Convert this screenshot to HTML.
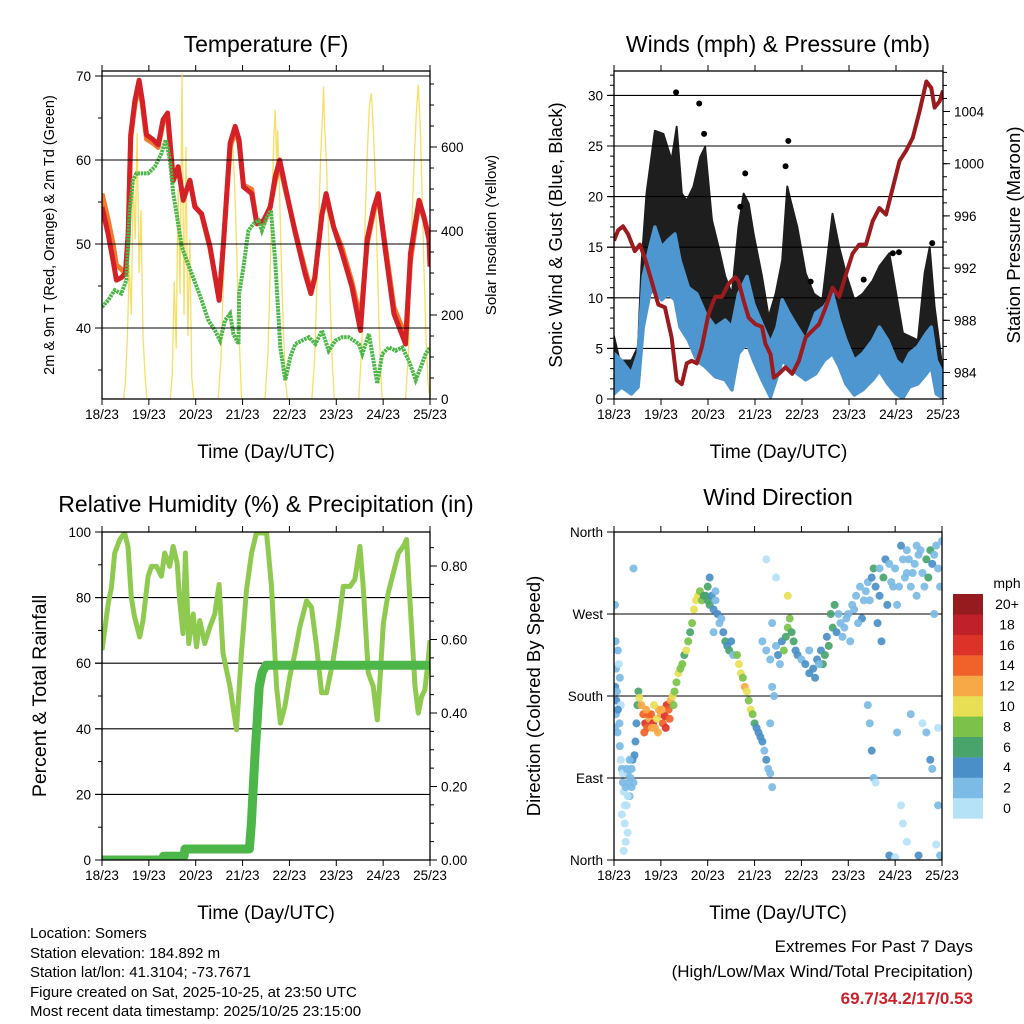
<!DOCTYPE html>
<html><head><meta charset="utf-8"><style>
html,body{margin:0;padding:0;background:#fff}
svg{display:block;font-family:"Liberation Sans",Arial,sans-serif}
</style></head><body>
<svg id="svg" width="1024" height="1024" viewBox="0 0 1024 1024" xmlns="http://www.w3.org/2000/svg">
<defs>
<clipPath id="c1"><rect x="102" y="71" width="328" height="328"/></clipPath>
<clipPath id="c2"><rect x="614" y="71" width="329" height="328"/></clipPath>
<clipPath id="c3"><rect x="102" y="532" width="328" height="328"/></clipPath>
<clipPath id="c4"><rect x="614" y="532" width="328" height="328"/></clipPath>
</defs>
<rect width="1024" height="1024" fill="#fff"/>
<g id="p1"></g>
<g id="p2"></g>
<g id="p3"></g>
<g id="p4"></g>
<g font-size="15" fill="#000">
<text x="30" y="938">Location: Somers</text>
<text x="30" y="958">Station elevation: 184.892 m</text>
<text x="30" y="977">Station lat/lon: 41.3104; -73.7671</text>
<text x="30" y="997">Figure created on Sat, 2025-10-25, at 23:50 UTC</text>
<text x="30" y="1016">Most recent data timestamp: 2025/10/25 23:15:00</text>
</g>
<g text-anchor="end" font-size="17">
<text x="973" y="952">Extremes For Past 7 Days</text>
<text x="973" y="977">(High/Low/Max Wind/Total Precipitation)</text>
<text x="973" y="1004" fill="#cc2229" font-weight="bold">69.7/34.2/17/0.53</text>
</g>
</svg>
<script>
// ---------- data ----------
const dayLabels=["18/23","19/23","20/23","21/23","22/23","23/23","24/23","25/23"];
const tempH=[0,3,5.7,7.4,9.9,12,13.4,14.7,16.8,19,20.7,22.8,26.2,28.8,31.3,33.6,36.5,39,41.6,45,47.6,51,55.3,60,62.2,65.6,68.2,70.2,72.5,76.7,79.3,82.7,86.2,88.7,91,93.9,99,104,107,109,112.7,114.8,118.7,123,128,132.4,135.8,139.3,141.5,145.3,149.5,155.5,158,162.4,165,167.5,168];
const temp2m=[54.4,51.3,48,45.7,46,46.5,51.3,63,67,69.5,67,63,62.4,61.8,64.8,65.6,57.6,59.2,55.2,57.6,54.4,53.6,49.7,43.3,50,62,64,62.4,56.8,56,52.4,52.8,54.4,58,60,56.8,51.3,46.5,44.1,46,53.6,56,52,48.9,44.9,39.7,50.5,54.4,56,48.9,41.7,38.1,48.9,55.2,53.2,50.5,47.3];
const temp9m=[56,53,50,47.5,47,46.5,51,62.5,66.5,69,66.5,62.5,62,61.5,64.5,65,57.5,59,55.5,57.5,54.5,53.5,49.5,43.5,50,61.5,63.5,62,57,56.5,52.5,52.5,54.5,57.5,59.5,56.5,51.5,47,44.5,46,53.5,55.5,52,49.5,45.5,41,50,54,55.5,49.5,42.5,39,48,55,53,51,48];
const dewH=[0,3.1,6.5,9.9,12.5,14.2,15.9,17.6,20.2,23.6,27.1,30.5,32.7,34.8,36.5,38.2,40.8,43.3,45.9,48.5,51,54.5,57.9,60.5,63,65.6,67.3,69.9,70.2,72.5,75,77.6,80.2,81.9,84.5,86.5,88.7,91.3,93.9,96.4,99,102.4,105.9,109.3,112.7,116.1,119.6,123,126.4,131.6,133.3,136.7,141,143.5,147,150.4,153.8,157.2,160.7,163.2,165.8,168];
const dewpoint=[42.5,43.3,44.5,44.1,45.7,54,57.6,58.4,58.4,58.4,59.2,60.8,62.4,60,56,53.6,49.7,48.1,46.5,44.9,43.3,40.9,39.7,38.5,40.9,41.7,39.3,38.1,44.1,47.3,51.6,52.4,52.8,51.6,53.2,54,48,37.7,33.8,36.5,38.1,38.5,38.9,38.1,39.7,37.3,38.5,38.9,38.9,38.1,36.9,39.3,33.4,36.9,37.7,37.3,37.7,36.1,33.8,35.3,36.9,37.7];
const solarH=[0,11,12,13,14,15,16,17,18,19,20,21,22,23,35,36,37,38,39,40,41,42,43,44,45,46,47,59.5,61,62,63,64,65,66,67,68,69,70,71,71.5,83.5,85,86,87,88,88.7,89.5,90,91,92,93,94,95,107.5,109,110,111,112,113,113.5,114,115,116,117,118,119,131.5,133,134,135,136,137,138,139,140,141,142,143,143.5,155.5,157,158,159,160,161,162,163,164,165,166,167,168];
const solar=[0,0,40,150,320,200,520,380,633,300,450,150,60,0,0,60,280,120,500,250,775,200,600,150,380,50,0,0,100,250,380,480,560,625,600,500,350,180,60,0,0,110,280,450,620,688,560,640,480,300,150,40,0,0,100,260,420,580,680,744,650,560,400,220,80,0,0,120,300,460,600,700,728,640,520,330,160,40,0,0,110,290,450,580,680,748,650,480,300,140,40,0];
const windH=[0,3.8,8.9,12.3,14.9,18.3,20.9,24.3,27.7,31.1,33.7,38,42.3,46.5,51.7,56.8,60.2,63.6,67.9,71.3,75.6,79.9,83.3,85.9,89.3,93.6,97.9,103,107.3,111.6,115,118.4,122.7,127,132.1,135.5,139.8,144.1,147.5,150.9,155.2,159.5,162,164.6,168];
const windHi=[4.5,3.8,2.5,4.5,12.1,15,17,15,15.7,16.3,13.7,11,10.4,8.5,7.1,7.8,7.1,10.4,12.1,9.4,7.4,5.5,7.1,9.8,8.5,7.1,5.8,8.5,9.1,10.4,7.8,5.8,3.8,4.5,5.8,7.1,5.8,3.8,3.2,4.5,5.2,6.5,7.1,3.8,2.5];
const windLo=[0.5,1.2,0.5,1.2,7.1,10.4,11,9.8,10.4,9.8,7.1,5.8,3.8,3.2,2.2,1.9,0.9,4.5,5.5,3.8,1.9,0.2,2.2,3.8,3.2,2.5,1.9,2.5,3.8,4.5,3.2,1.5,0.4,0.9,1.9,2.8,1.5,0.5,0.1,1.2,1.5,2.5,3.2,0.5,0.1];
const gustH=[0,2.9,8.9,12.3,14,16.6,20.9,25.2,29.4,32,34.6,37.1,40.6,44,46.5,50,53.4,56.8,60.2,63.6,66.2,68.8,71.3,75.6,79,82.5,85.9,88.5,90.2,93.6,97.9,102.1,106.4,111.6,115,118.4,122.7,127,132.1,135.5,140.6,144.1,147.5,150.9,155.2,158.6,161.2,163.7,166.3,168];
const gustHi=[6.2,3.8,3.8,5.2,13.1,20.3,26.5,26.2,23.6,26.9,20.3,19.6,21,23.9,24.9,17.7,15,12.1,10.4,17,20.3,19.3,16.3,12.1,8.1,10.4,13.7,21,19.6,17,12.4,10.4,9.8,18.3,15,12.4,9.8,10.4,11.7,13.1,14.4,10.4,6.5,6.2,5.8,12.4,15,9.1,5.2,2.5];
const gustDotH=[31.7,43.5,46,89,67,127.5,142.4,162.5,100.4,87.6,145.5,64.5];
const gustDotV=[30.3,29.2,26.2,25.5,22.3,11.8,14.4,15.4,11.6,23,14.5,19];
const presH=[0,2.1,4.6,7.2,10.6,13.2,15.7,19.2,22.6,26,29.4,32,34.6,37.1,39.7,42.3,44.8,48.3,51.7,55.1,58.5,61.9,63.6,66.2,68.8,72.2,75.6,77.3,79.9,81.6,84.2,87.6,91,94.4,97.9,101.3,104.7,108.1,111.6,115,118.4,121.8,125.2,128.7,132.1,135.5,138.9,142.4,145.8,149.2,152.6,156,159.5,162,163.7,166.3,168];
const pressure=[994.1,994.9,995.2,994.6,993.3,993.8,992.8,991,989.2,989,986.7,983.4,983.1,984.7,984.9,984.7,985.9,988.5,989.8,989.8,990.8,991.3,991,989.5,988.2,987.7,987.5,986.2,985.4,983.6,983.9,984.4,983.9,984.9,986.7,987.2,987.7,989,990.5,989.8,991.5,993.1,993.8,993.8,995.6,996.6,996.1,998.2,1000.2,1001,1002,1004,1006.3,1005.8,1004.3,1004.8,1005.6];
const rhH=[0,1.4,3.1,4.8,6.5,9.1,11.6,13.3,15,16.7,19.3,21,23.6,25.3,27.9,30.4,32.1,34.7,36.4,38.5,39.8,41.5,42.7,44.4,46.7,48.4,50.1,52.6,55.2,57.8,60,62,65.5,68.9,71.4,74,76.6,79.1,84.3,86.8,89.4,91.4,93.7,96.2,98.8,101.3,104.8,107.3,109.9,112.5,115,118.4,121,123.6,127,129.5,132.1,133.8,136.4,138.9,141,142.4,144.1,146.6,149.2,151.8,154.3,156,157.7,160.3,162,163.7,165.4,167.1,168];
const rh=[64,70,78,83,93.6,97.7,99.7,95.6,80,74,68,73,86.5,89.5,89.5,86.5,93.6,89.5,95.6,90.5,79,69,93.6,66,75,65,73,66,71,75,84,63,53,39.7,63,82.4,93.6,99.7,99.7,83.4,53,41.7,46.8,56,63,71,79,77,65,51,51,61,71,83.4,83.4,85.5,95.6,83.4,57,53,42.7,55,72,81.4,87.5,93.6,95.6,97.7,79.3,53,44.8,49.8,51.9,61,67];
const precipH=[0,31,31.5,42,42.5,75.5,76.5,77.5,78.5,79.5,80.5,82,84,168];
const precip=[0,0,0.01,0.01,0.03,0.03,0.1,0.2,0.3,0.38,0.47,0.51,0.53,0.53];
const dirH=[
0.5,0.8,1,0.6,1.2,1,0.5,2,2.5,3,
3.5,2.8,3.5,4,4.5,5,6,6.5,7,7.5,
5.5,6,8,8.5,9,9.5,10,4,5,7,
10.5,11,11.5,12,12.5,13,14,15,16,17,
18,19,20,21,22,23,24,25,26,27,
28,29,30,31,32,33,34,35,36,37,
38,39,40,41,42,43,44,45,46,47,
48,49,50,51,52,53,54,55,56,57,
58,59,60,61,49,52,51,48,63,64,
65,66,67,68,69,70,71,72,73,74,
75,76,77,78,79,80,81,80,81,82,
76,78,80,81,83,84,85,86,87,88,
89,90,91,92,93,89,94,96,98,100,
102,104,106,108,110,112,113,111,107,114,
116,118,120,122,124,126,128,130,132,121,
127,133,134,136,138,139,140,135,137,142,
144,146,148,150,152,154,156,158,160,161,
162,163,165,166,167,168,150,145,155,164,
157,147,130,131,132,133,134,145,147,148,
150,152,156,158,160,162,163,165,166,167,
166,141,144,10,83,78,
100,103,105,109,115,117,119,123,125,129,
131,136,141,143,149,151,153,155,159,164,
1.5,2,1.8,3,4.5,5.5,6.5,8,9,7,
15.5,17.5,19.5,22.5,24.5,26.5,28.5,16.5,20.5,30.5];
const dirDeg=[
280,240,210,190,175,160,145,230,215,200,
170,150,110,100,85,75,80,60,95,85,
40,20,70,90,100,110,85,50,10,30,
115,130,150,170,185,178,170,160,150,145,
155,160,150,145,155,165,160,150,158,170,
165,175,180,185,195,205,210,215,225,230,
240,250,260,275,285,290,295,285,290,290,
285,280,290,275,285,270,260,265,250,240,
235,230,240,225,310,295,250,300,225,215,
205,200,190,185,175,165,160,150,145,140,
135,130,120,110,100,95,80,150,190,180,
240,230,220,260,235,225,215,240,230,245,
255,265,250,240,230,290,225,220,215,205,
210,220,230,225,235,255,280,270,215,250,
260,255,270,280,290,300,285,305,310,240,
265,320,300,290,310,330,280,260,240,305,
320,300,330,315,300,325,335,315,330,310,
340,325,345,320,300,350,340,280,290,270,
340,345,170,150,120,90,85,140,60,40,
20,160,5,150,140,110,100,17,60,5,
145,5,3,320,310,330,
230,200,215,245,270,245,265,275,260,295,
285,320,325,300,310,330,315,345,300,335,
185,165,140,125,95,60,100,110,80,70,
140,160,145,140,165,145,155,165,170,170];
const dirSpd=[
2,2,3,4,4,2,3,2,1,2,
1,2,1,2,2,1,2,1,3,2,
1,1,2,3,3,4,2,0,0,1,
4,4,5,6,7,10,12,14,16,15,
13,14,16,12,11,13,12,14,16,17,
15,13,10,9,8,10,8,9,7,10,
8,7,9,10,11,10,8,9,7,6,
7,6,5,4,3,4,3,3,4,6,
5,7,4,3,4,3,3,6,8,10,
11,9,12,10,9,10,8,6,5,4,
4,4,3,4,3,2,2,2,2,2,
2,3,2,2,3,4,3,5,8,7,
9,8,7,6,5,10,4,3,4,4,
5,4,5,6,6,7,7,6,6,5,
2,3,2,2,2,3,2,3,4,2,
4,6,4,5,7,4,4,4,4,2,
3,2,2,3,2,2,3,3,6,6,
7,4,2,3,2,2,2,2,2,2,
2,4,2,2,4,2,1,2,1,1,
1,2,4,1,2,4,2,1,2,2,
1,4,1,2,1,1,
3,4,3,5,3,2,3,2,2,2,
3,2,3,2,2,2,3,2,2,3,
3,4,2,2,1,1,2,3,2,1,
15,14,13,12,13,16,14,12,11,9];
const speedLabels=["0","2","4","6","8","10","12","14","16","18","20+"];
const speedColors=["#b6e2f7","#7cbbe5","#4a8fc7","#48a46b","#7bc14a","#e8df55","#f7a847","#f0622a","#dd3228","#c0202a","#951b1e"];

// ---------- helpers ----------
const NS="http://www.w3.org/2000/svg";
function mk(parent,tag,attrs,text){const e=document.createElementNS(NS,tag);for(const k in attrs)e.setAttribute(k,attrs[k]);if(text!==undefined)e.textContent=text;parent.appendChild(e);return e;}
function xs(x0,x1){return h=>x0+h/168*(x1-x0);}
function pathFrom(H,V,fx,fy){return H.map((h,i)=>(i?"L":"M")+fx(h).toFixed(1)+","+fy(V[i]).toFixed(1)).join("");}
function frame(g,x0,x1,y0,y1){
  const r=mk(g,"rect",{x:x0,y:y0,width:x1-x0,height:y1-y0,fill:"none",stroke:"#000","stroke-width":1.3});
  
  
  const fx=xs(x0,x1);
  for(let d=0;d<=7;d++){
    const x=fx(d*24);
    mk(g,"line",{x1:x,x2:x,y1:y1,y2:y1+6,stroke:"#000","stroke-width":1});
    mk(g,"line",{x1:x,x2:x,y1:y0,y2:y0-6,stroke:"#000","stroke-width":1});
    const t=mk(g,"text",{x:x,y:y1+20,"text-anchor":"middle","font-size":13.5},dayLabels[d]);
    
    
  }
  const at=mk(g,"text",{x:(x0+x1)/2,y:y1+59,"text-anchor":"middle","font-size":19},"Time (Day/UTC)");
  
  
}
function yTicks(g,side,x0,x1,vals,fy,labels,minorVals,grid){
  const xe=side==="l"?x0:x1, s=side==="l"?-1:1;
  minorVals.forEach(v=>{const y=fy(v);mk(g,"line",{x1:xe,x2:xe+s*4,y1:y,y2:y,stroke:"#000","stroke-width":1});});
  vals.forEach((v,i)=>{
    const y=fy(v);
    mk(g,"line",{x1:xe,x2:xe+s*7,y1:y,y2:y,stroke:"#000","stroke-width":1});
    if(grid&&v!==grid.skip) mk(g,"line",{x1:x0-7,x2:x1,y1:y,y2:y,stroke:"#000","stroke-width":1.1});
    const t=mk(g,"text",{x:xe+s*11,y:y+5,"text-anchor":side==="l"?"end":"start","font-size":13.5},labels[i]);
    
    
  });
}
function title(g,x,y,txt,name){const t=mk(g,"text",{x:x,y:y,"text-anchor":"middle","font-size":23},txt);}
function vtitle(g,x,y,txt,size,name){const t=mk(g,"text",{x:0,y:0,"text-anchor":"middle","font-size":size,transform:`translate(${x},${y}) rotate(-90)`},txt);}
function range(a,b,s){const r=[];for(let v=a;v<=b+1e-9;v+=s)r.push(+v.toFixed(3));return r;}

// ---------- Panel 1 ----------
(function(){
  const g=document.getElementById("p1");
  const x0=102,x1=430,y0=71,y1=399,fx=xs(x0,x1);
  const fT=v=>328-(v-40)*8.4, fS=v=>399-v*0.42;
  title(g,266,52,"Temperature (F)","temperature-title");
  const cg=mk(g,"g",{"clip-path":"url(#c1)"});
  mk(cg,"line",{x1:x0,x2:x1,y1:fT(70),y2:fT(70),stroke:"#000","stroke-width":1.1});
  const s=mk(cg,"path",{d:pathFrom(solarH,solar,fx,fS),fill:"none",stroke:"#f6d84c","stroke-width":1.3,opacity:0.85});
  
  
  const o=mk(cg,"path",{d:pathFrom(tempH,temp9m,fx,fT),fill:"none",stroke:"#f07a2e","stroke-width":5,"stroke-linejoin":"round"});
  
  
  const r=mk(cg,"path",{d:pathFrom(tempH,temp2m,fx,fT),fill:"none",stroke:"#d42027","stroke-width":5,"stroke-linejoin":"round"});
  
  
  const d=mk(cg,"path",{d:pathFrom(dewH,dewpoint,fx,fT),fill:"none",stroke:"#4cb648","stroke-width":4,"stroke-dasharray":"2.5 0.8"});
  
  
  yTicks(g,"l",x0,x1,[40,50,60,70],fT,["40","50","60","70"],[35,45,55,65],{skip:70});
  yTicks(g,"r",x0,x1,[0,200,400,600],fS,["0","200","400","600"],range(50,750,50),null);
  frame(g,x0,x1,y0,y1);
  vtitle(g,54,235,"2m & 9m T (Red, Orange) & 2m Td (Green)",14.5,"temperature-y-title");
  vtitle(g,496,235,"Solar Insolation (Yellow)",15,"solar-y-title");
})();

// ---------- Panel 2 ----------
(function(){
  const g=document.getElementById("p2");
  const x0=614,x1=943,y0=71,y1=399,fx=xs(x0,x1);
  const fW=v=>399-v*10.12, fP=v=>372.5-(v-984)*13.05;
  title(g,778,52,"Winds (mph) & Pressure (mb)","winds-title");
  yTicks(g,"l",x0,x1,[0,5,10,15,20,25,30],fW,["0","5","10","15","20","25","30"],range(1,32,1),{skip:0});
  const cg=mk(g,"g",{"clip-path":"url(#c2)"});
  const lo=windH.map((h,i)=>[fx(h),fW(windLo[i])]).reverse();
  const gp="M"+gustH.map((h,i)=>fx(h).toFixed(1)+","+fW(gustHi[i]).toFixed(1)).join("L")+"L"+lo.map(p=>p[0].toFixed(1)+","+p[1].toFixed(1)).join("L")+"Z";
  const ga=mk(cg,"path",{d:gp,fill:"#000",stroke:"#000","stroke-width":2,"stroke-linejoin":"round",opacity:0.88});
  
  
  gustDotH.forEach((h,i)=>{
    const c=mk(cg,"circle",{cx:fx(h),cy:fW(gustDotV[i]),r:3,fill:"#000"});
    
    
  });
  const wp="M"+windH.map((h,i)=>fx(h).toFixed(1)+","+fW(windHi[i]).toFixed(1)).join("L")+"L"+lo.map(p=>p[0].toFixed(1)+","+p[1].toFixed(1)).join("L")+"Z";
  const wa=mk(cg,"path",{d:wp,fill:"#4e96d0",stroke:"#4e96d0","stroke-width":3.5,"stroke-linejoin":"round"});
  
  
  const p=mk(cg,"path",{d:pathFrom(presH,pressure,fx,fP),fill:"none",stroke:"#9b1b1f","stroke-width":4,"stroke-linejoin":"round"});
  
  
  yTicks(g,"r",x0,x1,[984,988,992,996,1000,1004],fP,["984","988","992","996","1000","1004"],range(982,1007,1),null);
  frame(g,x0,x1,y0,y1);
  vtitle(g,562,235,"Sonic Wind & Gust (Blue, Black)",18.5,"wind-y-title");
  vtitle(g,1020,235,"Station Pressure (Maroon)",18.5,"pressure-y-title");
})();

// ---------- Panel 3 ----------
(function(){
  const g=document.getElementById("p3");
  const x0=102,x1=430,y0=532,y1=860,fx=xs(x0,x1);
  const fR=v=>860-v*3.28, fQ=v=>860-v*367.5;
  title(g,266,512,"Relative Humidity (%) & Precipitation (in)","humidity-title");
  yTicks(g,"l",x0,x1,[0,20,40,60,80,100],fR,["0","20","40","60","80","100"],range(10,90,20),{skip:0});
  const cg=mk(g,"g",{"clip-path":"url(#c3)"});
  const r=mk(cg,"path",{d:pathFrom(rhH,rh,fx,fR),fill:"none",stroke:"#8fca50","stroke-width":5,"stroke-linejoin":"round"});
  
  
  const q=mk(cg,"path",{d:pathFrom(precipH,precip,fx,fQ),fill:"none",stroke:"#4cb648","stroke-width":9,"stroke-linejoin":"round","stroke-linecap":"round"});
  
  
  yTicks(g,"r",x0,x1,[0,0.2,0.4,0.6,0.8],fQ,["0.00","0.20","0.40","0.60","0.80"],range(0.05,0.85,0.05),null);
  frame(g,x0,x1,y0,y1);
  vtitle(g,46,696,"Percent & Total Rainfall",19.5,"humidity-y-title");
})();

// ---------- Panel 4 ----------
(function(){
  const g=document.getElementById("p4");
  const x0=614,x1=942,y0=532,y1=860,fx=xs(x0,x1);
  const fD=v=>860-v*328/360;
  title(g,778,505,"Wind Direction","direction-title");
  yTicks(g,"l",x0,x1,[0,90,180,270,360],fD,["North","East","South","West","North"],[],{skip:-1});
  const cg=mk(g,"g",{"clip-path":"url(#c4)"});
  const n=Math.min(dirH.length,dirDeg.length,dirSpd.length);
  for(let i=0;i<n;i++){
    const k=Math.min(10,Math.floor(dirSpd[i]/2));
    const c=mk(cg,"circle",{cx:fx(dirH[i]),cy:fD(dirDeg[i]),r:4,fill:speedColors[k],opacity:0.92});
    
    
  }
  frame(g,x0,x1,y0,y1);
  vtitle(g,540,696,"Direction (Colored By Speed)",18.5,"direction-y-title");
  const lg=mk(g,"g",{});
  
  
  const mt=mk(lg,"text",{x:1007,y:588,"text-anchor":"middle","font-size":14},"mph");
  
  
  speedLabels.forEach((lab,i)=>{
    const y=798-i*20.4;
    const b=mk(lg,"rect",{x:953,y:y,width:30,height:20.6,fill:speedColors[i]});
    
    
    const t=mk(lg,"text",{x:1007,y:y+15,"text-anchor":"middle","font-size":14},lab);
    
    
  });
})();
</script>
</body></html>
